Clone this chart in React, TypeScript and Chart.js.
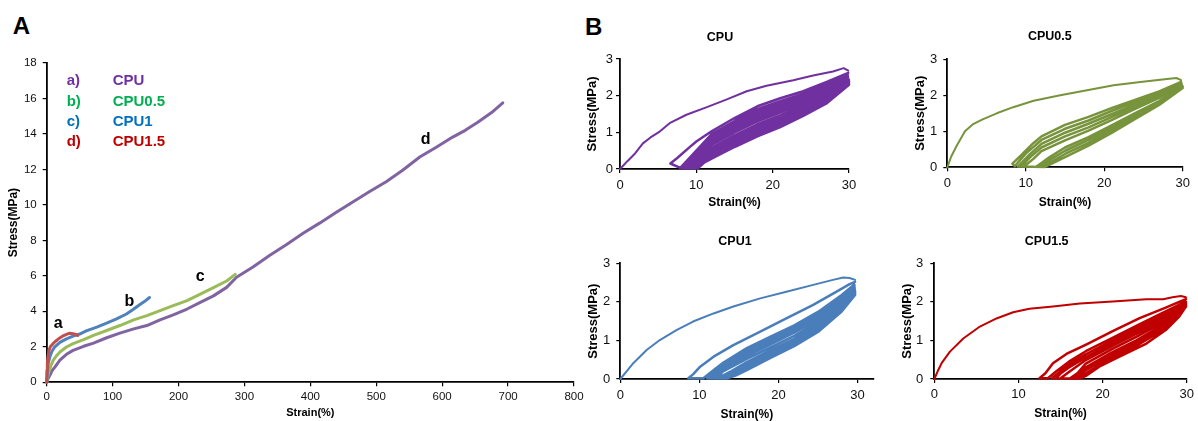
import React, { useEffect, useRef } from "react";
import { Chart, registerables } from "chart.js";

Chart.register(...registerables);

type P = [number, number];

const FONT = "'Liberation Sans', Arial, Helvetica, sans-serif";

// ---------- Panel A : tensile curves ----------
const tensileXTicks = { max: 800, step: 100 };
const tensileYTicks = { max: 18, step: 2 };

const tensileCPU: P[] = [
  [0, 0], [2, 0.2], [5, 0.41], [8, 0.65], [12.7, 0.87], [20, 1.25], [30, 1.58], [40, 1.8], [56, 2.03],
  [71, 2.21], [91, 2.51], [111, 2.77], [132, 3.01], [152, 3.2], [172, 3.52], [192, 3.8], [213, 4.13],
  [233, 4.5], [253, 4.87], [273, 5.35], [288, 5.92], [313, 6.5], [338, 7.15], [364, 7.76], [389, 8.4],
  [414, 8.97], [440, 9.6], [465, 10.18], [490, 10.75], [515, 11.3], [540, 11.95], [566, 12.7],
  [591, 13.25], [616, 13.82], [635, 14.2], [654, 14.65], [675, 15.2], [692, 15.75],
];
const tensileCPU05: P[] = [
  [0, 0], [2, 0.4], [4, 0.69], [7, 1.0], [10, 1.25], [15, 1.5], [20, 1.71], [30, 1.99], [40, 2.18],
  [56, 2.4], [71, 2.64], [91, 2.92], [111, 3.2], [132, 3.52], [152, 3.76], [172, 4.04], [192, 4.32],
  [213, 4.6], [233, 4.97], [253, 5.34], [273, 5.71], [286, 6.08],
];
const tensileCPU1: P[] = [
  [0, 0], [1, 0.6], [2.5, 1.1], [5, 1.45], [8, 1.75], [12, 1.98], [20, 2.25], [30, 2.45], [40, 2.6],
  [50, 2.72], [60, 2.9], [76, 3.11], [91, 3.33], [106, 3.57], [121, 3.85], [131, 4.1], [142, 4.4],
  [150, 4.6], [156, 4.78],
];
const tensileCPU15: P[] = [
  [0, 0], [0.5, 0.7], [1, 1.1], [2, 1.5], [3.5, 1.8], [5.5, 2.0], [9, 2.15], [13, 2.3], [18, 2.45],
  [24, 2.6], [30, 2.7], [35, 2.77], [40, 2.74], [44, 2.7], [47, 2.64],
];

const curveLabelText = ["a", "b", "c", "d"];
const curveLabelX = [17.6, 125.5, 233, 575];
const curveLabelY = [3.07, 4.32, 5.72, 13.44];

const legendKeys = ["a)", "b)", "c)", "d)"];
const legendNames = ["CPU", "CPU0.5", "CPU1", "CPU1.5"];
const legendColors = ["#7030A0", "#00B050", "#0070C0", "#C00000"];

// ---------- Panel B : cyclic loading ----------
const cpuFirstLoad: P[] = [
  [0, 0], [1, 0.22], [2, 0.43], [3, 0.7], [4, 0.86], [5.2, 1.02], [6.5, 1.25], [8.7, 1.48], [11.3, 1.68],
  [14, 1.9], [16.6, 2.12], [19.2, 2.27], [22.7, 2.42], [25.3, 2.55], [27.9, 2.66], [29.3, 2.75], [29.9, 2.68],
];
const cpuCycles: P[] = [
  [29.9, 2.62], [27, 2.37], [24, 2.12], [21, 1.93], [18, 1.71], [15, 1.39], [12, 1.03], [10, 0.75], [9.2, 0.61],
  [7.5, 0.3], [6.6, 0.15], [7.9, 0.03],
  [10, 0.5], [12, 0.955], [15, 1.31], [18, 1.63], [21, 1.85], [24, 2.05], [27, 2.31], [29.8, 2.59],
  [30, 2.3], [27, 1.78], [24, 1.45], [21, 1.14], [18, 0.89], [15, 0.6], [12, 0.28], [11, 0.17], [10.2, 0.02],
  [8.2, 0.02], [10, 0.42], [12, 0.895], [15, 1.25], [18, 1.56], [21, 1.79], [24, 2.0], [27, 2.26], [29.8, 2.56],
  [30, 2.33], [27, 1.83], [24, 1.5], [21, 1.2], [18, 0.96], [15, 0.66], [12, 0.34], [11, 0.22], [10, 0.02],
  [8.5, 0.02], [10, 0.34], [12, 0.835], [15, 1.18], [18, 1.5], [21, 1.72], [24, 1.95], [27, 2.22], [29.8, 2.54],
  [30, 2.35], [27, 1.87], [24, 1.56], [21, 1.27], [18, 1.02], [15, 0.73], [12, 0.4], [11, 0.27], [9.8, 0.02],
  [8.8, 0.02], [10, 0.27], [12, 0.775], [15, 1.12], [18, 1.43], [21, 1.66], [24, 1.89], [27, 2.17], [29.8, 2.51],
  [30, 2.38], [27, 1.92], [24, 1.61], [21, 1.33], [18, 1.09], [15, 0.79], [12, 0.46], [11, 0.31], [9.6, 0.02],
  [9.1, 0.02], [10, 0.2], [12, 0.715], [15, 1.06], [18, 1.37], [21, 1.6], [24, 1.84], [27, 2.12], [29.8, 2.49],
  [30, 2.4], [27, 1.97], [24, 1.66], [21, 1.39], [18, 1.15], [15, 0.85], [12, 0.52], [11, 0.36], [9.4, 0.02],
  [9.3, 0.02], [10, 0.15], [12, 0.655], [15, 1.0], [18, 1.3], [21, 1.54], [24, 1.79], [27, 2.08], [29.8, 2.46],
  [30, 2.43], [27, 2.02], [24, 1.72], [21, 1.46], [18, 1.22], [15, 0.92], [12, 0.58], [11, 0.4], [9.2, 0.02],
];

const cpu05FirstLoad: P[] = [
  [0, 0], [0.5, 0.3], [1.2, 0.6], [2.25, 1.0], [3.3, 1.2], [4.5, 1.33], [6.3, 1.5], [8.4, 1.67], [11, 1.85],
  [14.4, 2.0], [17.8, 2.14], [21.2, 2.28], [24.6, 2.37], [28, 2.45], [29.2, 2.48], [29.8, 2.42],
];
const cpu05Cycles: P[] = [
  [29.8, 2.37], [27, 2.11], [24, 1.88], [21, 1.65], [18, 1.4], [15, 1.18], [12, 0.86], [10.96, 0.67], [9.26, 0.3],
  [8.3, 0.1], [8.6, 0.03],
  [10, 0.38], [12, 0.76], [15, 1.07], [18, 1.3], [21, 1.57], [24, 1.82], [27, 2.06], [29.8, 2.35],
  [30, 2.2], [27, 1.73], [24, 1.35], [21, 0.96], [18, 0.6], [15, 0.28], [13.5, 0.12], [12.45, 0.01],
  [9.0, 0.02], [10.5, 0.36], [12, 0.65], [15, 0.96], [18, 1.21], [21, 1.48], [24, 1.75], [27, 2.02], [29.8, 2.33],
  [30, 2.22], [27, 1.77], [24, 1.4], [21, 1.03], [18, 0.68], [15, 0.37], [13, 0.12], [12.1, 0.01],
  [9.4, 0.02], [10.5, 0.27], [12, 0.55], [15, 0.86], [18, 1.11], [21, 1.4], [24, 1.69], [27, 1.97], [29.8, 2.31],
  [30, 2.23], [27, 1.81], [24, 1.46], [21, 1.1], [18, 0.76], [15, 0.46], [13, 0.2], [11.7, 0.01],
  [9.8, 0.02], [11, 0.24], [12, 0.45], [15, 0.75], [18, 1.02], [21, 1.32], [24, 1.63], [27, 1.93], [29.8, 2.29],
  [30, 2.25], [27, 1.84], [24, 1.51], [21, 1.17], [18, 0.84], [15, 0.55], [13, 0.28], [11.3, 0.01],
];

const cpu1FirstLoad: P[] = [
  [0, 0], [0.8, 0.2], [1.64, 0.41], [3.33, 0.75], [5, 1.01], [7.1, 1.27], [9.2, 1.49], [11.8, 1.7],
  [14.3, 1.88], [17.7, 2.09], [21, 2.26], [24.4, 2.44], [26.9, 2.57], [28.2, 2.63], [29, 2.62], [29.7, 2.57],
];
const cpu1Cycles: P[] = [
  [29.7, 2.52], [29, 2.46], [27.3, 2.26], [24.4, 1.92], [21, 1.57], [17.7, 1.23], [14.3, 0.88], [11.8, 0.58],
  [10.1, 0.32], [9.2, 0.12], [8.6, 0.02], [10.5, 0.02],
  [11.5, 0.18], [13, 0.42], [16, 0.8], [19, 1.1], [22, 1.39], [25, 1.74], [28, 2.18], [29.6, 2.45],
  [29.7, 2.18], [28, 1.75], [25, 1.22], [22, 0.85], [19, 0.55], [16, 0.23], [14.5, 0.08], [13.4, 0.01],
  [11.0, 0.02], [13, 0.37], [16, 0.73], [19, 1.03], [22, 1.33], [25, 1.68], [28, 2.13], [29.6, 2.42],
  [29.7, 2.21], [28, 1.8], [25, 1.28], [22, 0.91], [19, 0.62], [16, 0.3], [14, 0.1], [13.0, 0.01],
  [11.4, 0.02], [13, 0.32], [16, 0.66], [19, 0.97], [22, 1.26], [25, 1.62], [28, 2.08], [29.6, 2.39],
  [29.7, 2.24], [28, 1.85], [25, 1.34], [22, 0.98], [19, 0.68], [16, 0.37], [14, 0.15], [12.6, 0.01],
  [11.8, 0.02], [13, 0.27], [16, 0.59], [19, 0.9], [22, 1.2], [25, 1.55], [28, 2.03], [29.6, 2.35],
  [29.7, 2.28], [28, 1.9], [25, 1.41], [22, 1.04], [19, 0.75], [16, 0.44], [14, 0.2], [12.2, 0.01],
  [13, 0.2], [16, 0.52], [19, 0.82], [22, 1.12], [25, 1.48], [28, 1.97], [29.6, 2.32],
];

const cpu15FirstLoad: P[] = [
  [0, 0], [0.4, 0.2], [0.87, 0.41], [1.86, 0.71], [3.44, 1.05], [5.42, 1.36], [7.39, 1.57], [9.37, 1.73],
  [11.3, 1.82], [14.1, 1.88], [17.3, 1.96], [21.2, 2.01], [25.2, 2.07], [27.2, 2.07], [28.3, 2.12],
  [29.3, 2.15], [29.9, 2.12],
];
const cpu15Cycles: P[] = [
  [29.9, 2.07], [29.1, 2.0], [27.5, 1.85], [24.4, 1.58], [21.2, 1.24], [18.1, 0.9], [15.7, 0.65], [14.1, 0.41],
  [13.2, 0.15], [12.5, 0.02], [13.5, 0.02],
  [14.5, 0.2], [16, 0.45], [18, 0.72], [21, 1.05], [24, 1.38], [27, 1.7], [29.8, 2.0],
  [29.9, 1.88], [29.1, 1.62], [27.5, 1.27], [25.2, 0.92], [22, 0.58], [19.6, 0.32], [18, 0.08], [17.3, 0.01],
  [14.0, 0.02], [15, 0.2], [16, 0.38], [18, 0.64], [21, 0.98], [24, 1.31], [27, 1.64], [29.8, 1.98],
  [29.9, 1.87], [27, 1.25], [24, 0.86], [21, 0.54], [18, 0.15], [16.9, 0.01],
  [14.5, 0.02], [15, 0.14], [16, 0.3], [18, 0.56], [21, 0.91], [24, 1.24], [27, 1.58], [29.8, 1.96],
  [29.9, 1.89], [27, 1.31], [24, 0.93], [21, 0.61], [18, 0.23], [16.5, 0.01],
  [15.0, 0.02], [16, 0.18], [18, 0.49], [21, 0.84], [24, 1.17], [27, 1.51], [29.8, 1.95],
  [29.9, 1.9], [27, 1.38], [24, 1.0], [21, 0.68], [18, 0.3], [16.1, 0.01],
  [17, 0.15], [18, 0.4], [21, 0.76], [24, 1.09], [27, 1.45], [29.8, 1.93],
];

const cyclicTitles = ["CPU", "CPU0.5", "CPU1", "CPU1.5"];
const cyclicColors = ["#7030A0", "#77933C", "#4A7EBB", "#C00000"];

// ---------- chart builder ----------
interface Series { data: P[]; color: string; width: number }
interface Spec {
  w: number; h: number;
  area: [number, number, number, number];
  xMax: number; xStep: number; yMax: number; yStep: number;
  tickSize: number; xTickPad: number; yTickPad: number;
  xTitle: string; yTitle: string;
  xTitleSize: number; yTitleSize: number; xTitlePad: number; yTitlePad: number;
  series: Series[];
  labels?: { x: number; y: number; text: string }[];
}

const curveLabelPlugin = {
  id: "curveLabels",
  afterDatasetsDraw(chart: any, _args: any, opts: any) {
    const items = (opts && opts.items) || [];
    if (!items.length) return;
    const { ctx } = chart;
    const sx = chart.scales.x;
    const sy = chart.scales.y;
    ctx.save();
    ctx.font = `bold 16px ${FONT}`;
    ctx.fillStyle = "#000";
    ctx.textAlign = "center";
    ctx.textBaseline = "alphabetic";
    for (const it of items) {
      ctx.fillText(it.text, sx.getPixelForValue(it.x), sy.getPixelForValue(it.y));
    }
    ctx.restore();
  },
};

function buildConfig(s: Spec): any {
  const [left, top, right, bottom] = s.area;
  const axisCommon = {
    type: "linear",
    grid: { drawOnChartArea: false, drawTicks: true, tickLength: 4, color: "#000", lineWidth: 1.2 },
    border: { display: true, color: "#000", width: 1.8 },
  };
  return {
    type: "scatter",
    data: {
      datasets: s.series.map((se) => ({
        data: se.data.map(([x, y]) => ({ x, y })),
        borderColor: se.color,
        backgroundColor: se.color,
        borderWidth: se.width,
        showLine: true,
        pointRadius: 0,
        pointHoverRadius: 0,
        tension: 0,
        clip: false,
        borderJoinStyle: "round",
        borderCapStyle: "round",
      })),
    },
    options: {
      animation: false,
      responsive: false,
      maintainAspectRatio: false,
      events: [],
      layout: { padding: { left: 0, top, right: s.w - right, bottom: 0 } },
      plugins: {
        legend: { display: false },
        tooltip: { enabled: false },
        title: { display: false },
        curveLabels: { items: s.labels || [] },
      },
      scales: {
        x: {
          ...axisCommon,
          position: "bottom",
          min: 0,
          max: s.xMax,
          ticks: {
            stepSize: s.xStep, includeBounds: false, autoSkip: false, maxRotation: 0,
            font: { family: FONT, size: s.tickSize }, color: "#111", padding: s.xTickPad,
          },
          title: {
            display: true, text: s.xTitle, color: "#000",
            font: { family: FONT, size: s.xTitleSize, weight: "bold", lineHeight: 1 },
            padding: { top: 0, bottom: s.xTitlePad },
          },
          afterFit: (sc: any) => { sc.height = s.h - bottom; },
        },
        y: {
          ...axisCommon,
          position: "left",
          min: 0,
          max: s.yMax,
          ticks: {
            stepSize: s.yStep, includeBounds: false, autoSkip: false,
            font: { family: FONT, size: s.tickSize }, color: "#111", padding: s.yTickPad,
          },
          title: {
            display: true, text: s.yTitle, color: "#000",
            font: { family: FONT, size: s.yTitleSize, weight: "bold", lineHeight: 1 },
            padding: { top: s.yTitlePad, bottom: 0 },
          },
          afterFit: (sc: any) => { sc.width = left; },
        },
      },
    },
    plugins: [curveLabelPlugin],
  };
}

function ChartBox({ spec, left, top }: { spec: Spec; left: number; top: number }) {
  const ref = useRef<HTMLCanvasElement>(null);
  useEffect(() => {
    const chart = new Chart(ref.current as HTMLCanvasElement, buildConfig(spec));
    return () => chart.destroy();
  }, [spec]);
  return (
    <canvas
      ref={ref}
      width={spec.w}
      height={spec.h}
      style={{ position: "absolute", left, top, width: spec.w, height: spec.h }}
    />
  );
}

function Txt({ x, baseline, size, text, color = "#000", center = false }: {
  x: number; baseline: number; size: number; text: string; color?: string; center?: boolean;
}) {
  return (
    <div
      style={{
        position: "absolute",
        left: x,
        top: baseline - 0.8465 * size,
        fontSize: size,
        lineHeight: `${size}px`,
        fontWeight: "bold",
        fontFamily: FONT,
        color,
        whiteSpace: "nowrap",
        transform: center ? "translateX(-50%)" : undefined,
      }}
    >
      {text}
    </div>
  );
}

const specA: Spec = {
  w: 588, h: 371, area: [46.7, 10, 574, 332.3],
  xMax: tensileXTicks.max, xStep: tensileXTicks.step, yMax: tensileYTicks.max, yStep: tensileYTicks.step,
  tickSize: 11.5, xTickPad: 4, yTickPad: 6,
  xTitle: "Strain(%)", yTitle: "Stress(MPa)", xTitleSize: 11, yTitleSize: 12, xTitlePad: 2.5, yTitlePad: 8,
  series: [
    { data: tensileCPU15, color: "#C0504D", width: 3 },
    { data: tensileCPU1, color: "#4F81BD", width: 3 },
    { data: tensileCPU05, color: "#9BBB59", width: 3 },
    { data: tensileCPU, color: "#8064A2", width: 3 },
  ],
  labels: curveLabelText.map((t, i) => ({ text: t, x: curveLabelX[i], y: curveLabelY[i] })),
};

function cyclicSpec(
  w: number, h: number, area: [number, number, number, number], xMax: number,
  xTickPad: number, yTickPad: number, xTitlePad: number, yTitlePad: number,
  first: P[], cycles: P[], color: string,
): Spec {
  return {
    w, h, area, xMax, xStep: 10, yMax: 3, yStep: 1,
    tickSize: 13, xTickPad, yTickPad,
    xTitle: "Strain(%)", yTitle: "Stress(MPa)", xTitleSize: 12, yTitleSize: 13, xTitlePad, yTitlePad,
    series: [
      { data: first, color, width: 2 },
      { data: cycles, color, width: 2.5 },
    ],
  };
}

const specCPU = cyclicSpec(295, 165, [45, 14, 274, 124], 30, 4.5, 3, 1, 11, cpuFirstLoad, cpuCycles, cyclicColors[0]);
const specCPU05 = cyclicSpec(300, 165, [52.3, 14.3, 287.7, 122.3], 30, 4.7, 6, 1.3, 18.5, cpu05FirstLoad, cpu05Cycles, cyclicColors[1]);
const specCPU1 = cyclicSpec(310, 176, [45.3, 18.3, 298.3, 134], 32, 5, 6, 0.7, 11.5, cpu1FirstLoad, cpu1Cycles, cyclicColors[2]);
const specCPU15 = cyclicSpec(303, 176, [39.3, 18.3, 292.3, 134], 30, 4, 7, 1.2, 6, cpu15FirstLoad, cpu15Cycles, cyclicColors[3]);

const legendBaselines = [84.7, 105.3, 125.7, 145.7];

export default function App() {
  return (
    <div
      style={{
        position: "fixed", left: 0, top: 0, width: 1198, height: 421,
        background: "#fff", overflow: "hidden", fontFamily: FONT,
      }}
    >
      <ChartBox spec={specA} left={0} top={50} />
      <ChartBox spec={specCPU} left={575} top={45} />
      <ChartBox spec={specCPU05} left={895} top={45} />
      <ChartBox spec={specCPU1} left={575} top={245} />
      <ChartBox spec={specCPU15} left={895} top={245} />

      <Txt x={12.7} baseline={34.3} size={24} text="A" />
      <Txt x={585} baseline={35} size={24} text="B" />

      {legendKeys.map((k, i) => (
        <Txt key={"k" + i} x={66.7} baseline={legendBaselines[i]} size={15} text={k} color={legendColors[i]} />
      ))}
      {legendNames.map((n, i) => (
        <Txt key={"n" + i} x={112.7} baseline={legendBaselines[i]} size={15} text={n} color={legendColors[i]} />
      ))}

      <Txt x={720} baseline={41.7} size={12.5} text={cyclicTitles[0]} center />
      <Txt x={1049.8} baseline={40.7} size={12.5} text={cyclicTitles[1]} center />
      <Txt x={735} baseline={245.7} size={12.5} text={cyclicTitles[2]} center />
      <Txt x={1046.7} baseline={246} size={12.5} text={cyclicTitles[3]} center />
    </div>
  );
}
